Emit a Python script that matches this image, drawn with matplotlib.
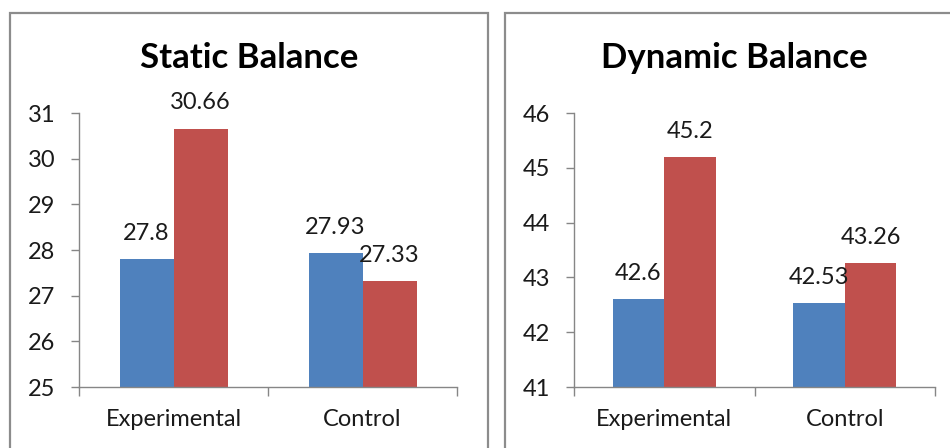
import matplotlib
matplotlib.use("Agg")
import matplotlib.pyplot as plt
from matplotlib.patches import Rectangle
import numpy as np

plt.rcParams['font.family'] = ['Lato', 'DejaVu Sans']

categories = ["Experimental", "Control"]
static_blue = [27.8, 27.93]
static_red = [30.66, 27.33]
dynamic_blue = [42.6, 42.53]
dynamic_red = [45.2, 43.26]
titles = ["Static Balance", "Dynamic Balance"]
static_ticks = [25, 26, 27, 28, 29, 30, 31]
dynamic_ticks = [41, 42, 43, 44, 45, 46]

BLUE = "#4F81BD"
RED = "#C0504D"
GRAY = "#868686"
TXT = "#1a1a1a"

W, H = 950, 448
fig = plt.figure(figsize=(W / 100, H / 100), dpi=100)

def fx(px):
    return px / W

def fy(py):
    return 1 - py / H

# panel borders
for (x0, x1) in [(10, 488), (505, 965)]:
    fig.patches.append(Rectangle((fx(x0), fy(470)), fx(x1 - x0), (470 - 13) / H,
                                 transform=fig.transFigure, fill=False,
                                 edgecolor="#8c8c8c", linewidth=1.6))

panels = [
    dict(ax=(79, 457), blue=static_blue, red=static_red, ticks=static_ticks,
         title=titles[0], tcx=249),
    dict(ax=(574, 935), blue=dynamic_blue, red=dynamic_red, ticks=dynamic_ticks,
         title=titles[1], tcx=734),
]

FS = 17
bw = 1 / 3.5
x = np.arange(len(categories))
for p in panels:
    a0, a1 = p["ax"]
    ax = fig.add_axes([fx(a0), fy(387), fx(a1 - a0), (387 - 113) / H])
    lo, hi = p["ticks"][0], p["ticks"][-1]
    for vals, col, off in [(p["blue"], BLUE, -bw / 2), (p["red"], RED, bw / 2)]:
        heights = [v - lo for v in vals]
        ax.bar(x + off, heights, width=bw, bottom=lo, color=col, edgecolor='none')
        for xi, v in zip(x + off, vals):
            ax.annotate(f"{v:g}", (xi, v), xytext=(0, 13.7), textcoords="offset points",
                        ha="center", va="baseline", fontsize=FS, color=TXT,
                        annotation_clip=False)
    ax.set_xlim(-0.5, 1.5)
    ax.set_ylim(lo, hi)
    ax.set_yticks(p["ticks"])
    ax.set_xticks(x)
    ax.set_xticklabels(categories)
    ax.set_xticks([-0.5, 0.5, 1.5], minor=True)
    ax.tick_params(axis='x', which='major', length=0, pad=16, labelsize=FS, labelcolor=TXT)
    ax.tick_params(axis='x', which='minor', length=6.5, color=GRAY, width=1)
    ax.tick_params(axis='y', length=6, color=GRAY, width=1, pad=11, labelsize=FS, labelcolor=TXT)
    for s in ["top", "right"]:
        ax.spines[s].set_visible(False)
    for s in ["left", "bottom"]:
        ax.spines[s].set_color(GRAY)
        ax.spines[s].set_linewidth(1)
    ax.patch.set_alpha(0)
    fig.text(fx(p["tcx"]), fy(58), p["title"], ha="center", va="center",
             fontsize=25, fontweight="bold", color="black")

fig.savefig("out.png", dpi=100)
